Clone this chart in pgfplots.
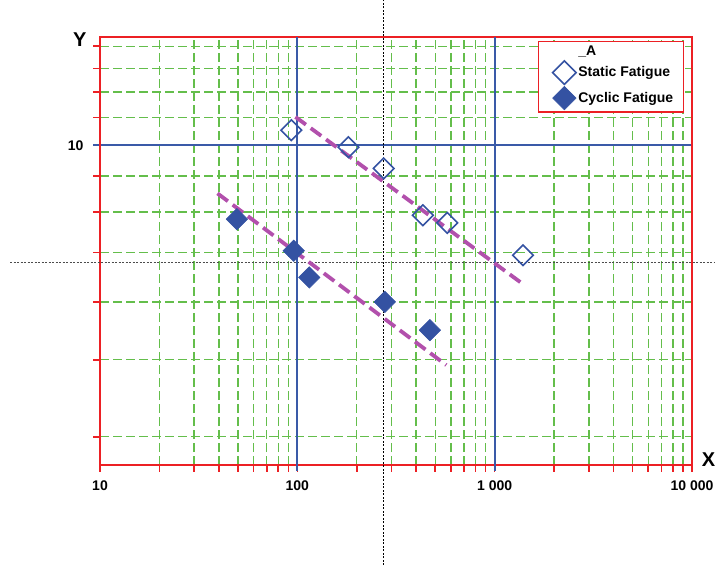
\documentclass[border=0pt]{standalone}
\usepackage{fontspec}
\setmainfont{Liberation Sans}
\usepackage{pgfplots}
\pgfplotsset{compat=1.18}

\definecolor{axred}{RGB}{236,32,36}
\definecolor{gridgreen}{RGB}{100,190,75}
\definecolor{lineblue}{RGB}{58,90,168}
\definecolor{markblue}{RGB}{52,82,162}
\definecolor{trendpink}{RGB}{178,80,172}

\pgfplotsset{
    legmark/.style={legend image code/.code={
        \path[draw=none, fill=none] (0pt,-9pt) rectangle (30pt,9pt);
        \draw[##1, mark size=8.3pt] plot coordinates {(18pt,0pt)};}},
}

\begin{document}
\begin{tikzpicture}
\useasboundingbox (0,0) rectangle (715pt,565pt);
\begin{axis}[
    at={(100pt,100pt)}, anchor=south west,
    scale only axis, width=592pt, height=428pt,
    xmode=log, ymode=log,
    xmin=10, xmax=10000, ymin=0.2375, ymax=35.45,
    clip=false,
    axis line style={axred, line width=1.8pt},
    tick align=outside, xtick pos=bottom, ytick pos=left,
    major tick length=7pt, minor tick length=7pt,
    every major x tick/.append style={axred, line width=1.6pt},
    every minor tick/.append style={axred, line width=1.6pt},
    every major y tick/.append style={lineblue, line width=1.6pt},
    xtick={10,100,1000,10000}, xticklabels={10,100,1 000,10 000},
    minor xtick={20,30,40,50,60,70,80,90,200,300,400,500,600,700,800,900,
                 2000,3000,4000,5000,6000,7000,8000,9000},
    ytick={10}, yticklabels={10},
    minor ytick={31.8,24.5,18.65,13.82,6.99,4.585,2.853,1.596,0.813,0.3307},
    xmajorgrids=false, xminorgrids=true, ymajorgrids=true, yminorgrids=true,
    minor grid style={gridgreen, line width=1.4pt, dash pattern=on 9pt off 4pt},
    major grid style={lineblue, line width=1.8pt, solid},
    ticklabel style={font=\bfseries\fontsize{14}{14}\selectfont, text=black},
    xticklabel style={yshift=-5pt},
    yticklabel style={xshift=-6pt},
    xlabel={X}, ylabel={Y},
    every axis x label/.style={at={(axis description cs:1.028,0.012)}, anchor=center,
        font=\bfseries\fontsize{20}{20}\selectfont},
    every axis y label/.style={at={(axis description cs:-0.034,0.993)}, anchor=center,
        font=\bfseries\fontsize{20}{20}\selectfont},
    legend style={at={(0.9865,0.9907)}, anchor=north east, draw=axred, line width=1.5pt,
        font=\bfseries\fontsize{14}{16}\selectfont, fill=white,
        inner xsep=8pt, inner ysep=2pt, row sep=2pt},
    legend cell align=left,
]
% crosshair
\draw[black, line width=1pt, dash pattern=on 2pt off 1.5pt]
    ([yshift=-100pt]axis cs:272.9,0.2375) -- ([yshift=37pt]axis cs:272.9,35.45);
\draw[black!70, line width=1pt, dash pattern=on 2pt off 1.5pt]
    ([xshift=-90pt]axis cs:10,2.527) -- ([xshift=23pt]axis cs:10000,2.527);

% blue decade lines at 100 and 1000
\addplot[draw=lineblue, line width=2pt, solid, mark=none, forget plot]
    coordinates {(100,0.2214) (100,35.45)};
\addplot[draw=lineblue, line width=2pt, solid, mark=none, forget plot]
    coordinates {(1000,0.2214) (1000,35.45)};

% trend lines
\addplot[trendpink, line width=3.8pt, dash pattern=on 13pt off 6pt, forget plot]
    coordinates {(97.8,13.92) (1392,1.97)};
\addplot[trendpink, line width=3.8pt, dash pattern=on 13pt off 6pt, forget plot]
    coordinates {(39.4,5.69) (568.6,0.764)};

\addlegendimage{empty legend}
\addlegendentry{\_A}

\addplot[only marks, mark=square, mark size=7.3pt, legmark,
    mark options={rotate=45, draw=markblue, fill=white, line width=1.6pt}]
    coordinates {
        (93.2,11.92) (181.5,9.77) (274,7.62) (432.6,4.41) (575,4.03) (1392,2.76)
    };
\addlegendentry{Static Fatigue}

\addplot[only marks, mark=square*, mark size=7.6pt, legmark,
    mark options={rotate=45, draw=markblue, fill=markblue, line width=0.5pt}]
    coordinates {
        (49.4,4.21) (95.8,2.91) (115,2.13) (277.5,1.60) (469.5,1.15)
    };
\addlegendentry{Cyclic Fatigue}
\end{axis}
\end{tikzpicture}
\end{document}
